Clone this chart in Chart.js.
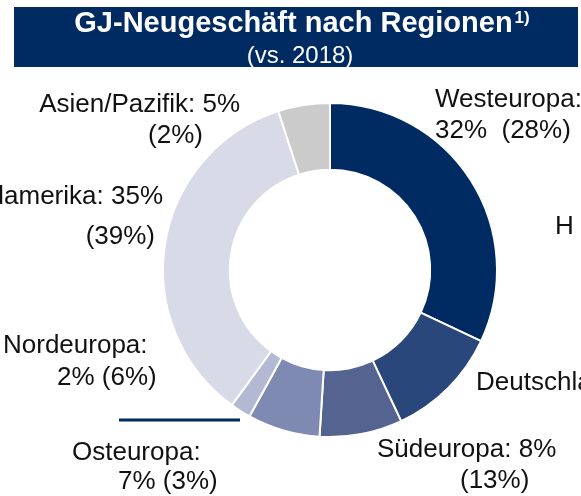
<!doctype html>
<html lang="de">
<head>
<meta charset="utf-8">
<title>GJ-Neugeschäft nach Regionen</title>
<script src="https://cdn.jsdelivr.net/npm/chart.js@4"></script>
<style>
  body { margin: 0; background: #fff; }
  canvas { display: block; }
</style>
</head>
<body>
<canvas id="regionChart" width="581" height="496"></canvas>
<script>
// Neugeschäft nach Regionen, Anteil in % (Vorjahr in Klammern)
const regions = ['Westeuropa', 'Deutschland', 'Südeuropa', 'Osteuropa', 'Nordeuropa', 'Nordamerika', 'Asien/Pazifik'];
const share2019 = [32, 11, 8, 7, 2, 35, 5];
const share2018 = [28, 14, 13, 3, 6, 39, 2];
const colors = ['#002b62', '#2a477b', '#54638f', '#7e8ab2', '#b3b9d3', '#d8dae8', '#cbcbcb'];

const FONT = '"Liberation Sans", Arial, sans-serif';

// label text placement around the ring: [text, x, y, align]
const labelSpots = [
  ['Westeuropa:', 435, 100, 'left'],
  [share2019[0] + '%  (' + share2018[0] + '%)', 435, 131, 'left'],
  ['H', 555, 227, 'left'],
  ['Deutschland: ' + share2019[1] + '%', 476, 383, 'left'],
  ['Südeuropa: ' + share2019[2] + '%', 377, 450, 'left'],
  ['(' + share2018[2] + '%)', 460, 481, 'left'],
  ['Osteuropa:', 72, 453, 'left'],
  [share2019[3] + '% (' + share2018[3] + '%)', 118, 482, 'left'],
  ['Nordeuropa:', 3, 346, 'left'],
  [share2019[4] + '% (' + share2018[4] + '%)', 57, 378, 'left'],
  ['Nordamerika: ' + share2019[5] + '%', 163, 197, 'right'],
  ['(' + share2018[5] + '%)', 155, 237, 'right'],
  ['Asien/Pazifik: ' + share2019[6] + '%', 240, 105, 'right'],
  ['(' + share2018[6] + '%)', 203, 136, 'right']
];

const decorations = {
  id: 'decorations',
  beforeDraw(chart) {
    const ctx = chart.ctx;
    ctx.save();
    // title bar
    ctx.fillStyle = '#002b62';
    ctx.fillRect(14, 7, 564, 60);
    ctx.fillStyle = '#fff';
    ctx.textBaseline = 'middle';
    const main = 'GJ-Neugeschäft nach Regionen';
    ctx.font = 'bold 29px ' + FONT;
    const w1 = ctx.measureText(main).width;
    ctx.font = 'bold 17px ' + FONT;
    const w2 = ctx.measureText('1)').width + 2;
    const x0 = 302 - (w1 + w2) / 2;
    ctx.textAlign = 'left';
    ctx.font = 'bold 29px ' + FONT;
    ctx.fillText(main, x0, 24);
    ctx.font = 'bold 17px ' + FONT;
    ctx.fillText('1)', x0 + w1 + 2, 18);
    ctx.font = '24px ' + FONT;
    ctx.textAlign = 'center';
    ctx.fillText('(vs. 2018)', 300, 56);
    ctx.restore();
  },
  afterDraw(chart) {
    const ctx = chart.ctx;
    ctx.save();
    ctx.fillStyle = '#111';
    ctx.font = '26px ' + FONT;
    ctx.textBaseline = 'middle';
    labelSpots.forEach(function(s) {
      ctx.textAlign = s[3];
      ctx.fillText(s[0], s[1], s[2]);
    });
    // separator line
    ctx.strokeStyle = '#002b62';
    ctx.lineWidth = 3;
    ctx.beginPath();
    ctx.moveTo(119, 420);
    ctx.lineTo(240, 420);
    ctx.stroke();
    ctx.restore();
  }
};

new Chart(document.getElementById('regionChart'), {
  type: 'doughnut',
  data: {
    labels: regions,
    datasets: [{
      data: share2019,
      backgroundColor: colors,
      borderColor: '#fff',
      borderWidth: 2
    }]
  },
  options: {
    responsive: false,
    animation: false,
    cutout: '60%',
    layout: { padding: { left: 162, right: 83, top: 102, bottom: 58 } },
    plugins: {
      legend: { display: false },
      tooltip: { enabled: false }
    }
  },
  plugins: [decorations]
});
</script>
</body>
</html>
